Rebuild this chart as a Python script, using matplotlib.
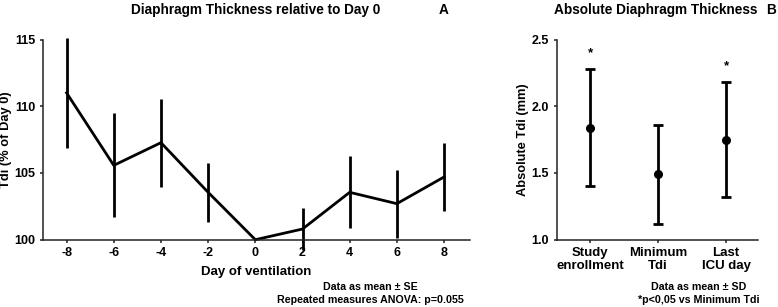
import matplotlib
matplotlib.use("Agg")
import matplotlib.pyplot as plt

plt.rcParams['font.family'] = ['Liberation Sans', 'DejaVu Sans']
plt.rcParams['font.weight'] = 'bold'

# Panel A data
days = [-8, -6, -4, -2, 0, 2, 4, 6, 8]
tdi_rel = [111.0, 105.57, 107.27, 103.55, 100.0, 100.8, 103.55, 102.7, 104.7]
tdi_rel_se = [4.1, 3.9, 3.3, 2.2, 0.0, 1.6, 2.7, 2.55, 2.57]
xticks_a = [-8, -6, -4, -2, 0, 2, 4, 6, 8]
yticks_a = [100, 105, 110, 115]

# Panel B data
categories = ["Study\nenrollment", "Minimum\nTdi", "Last\nICU day"]
tdi_abs = [1.84, 1.49, 1.75]
tdi_abs_sd = [0.44, 0.37, 0.43]
significant = [True, False, True]
yticks_b = [1.0, 1.5, 2.0, 2.5]

W, H = 778, 307
fig = plt.figure(figsize=(W / 100, H / 100), dpi=100)

def fx(px):
    return px / W

def fy(py):
    return 1 - py / H

axA = fig.add_axes([fx(43), fy(239.7), fx(470 - 43), (239.7 - 39.5) / H])
axB = fig.add_axes([fx(556.7), fy(239.7), fx(758 - 556.7), (239.7 - 39.5) / H])

fs = 9
for ax in (axA, axB):
    for s in ('top', 'right'):
        ax.spines[s].set_visible(False)
    for s in ('left', 'bottom'):
        ax.spines[s].set_linewidth(1.1)
        ax.spines[s].set_color('#222222')
    ax.tick_params(direction='out', width=1.1, length=2.5, pad=3, labelsize=fs,
                   color='#222222')

# Panel A
axA.errorbar(days, tdi_rel, yerr=tdi_rel_se, color='black', lw=2.0,
             elinewidth=2.0, capsize=0, clip_on=False)
axA.set_xlim(-9, 9.1)
axA.set_ylim(100, 115)
axA.set_xticks(xticks_a)
axA.set_yticks(yticks_a)
axA.set_xticklabels([str(t) for t in xticks_a], fontweight='bold', fontsize=fs)
axA.set_yticklabels([str(t) for t in yticks_a], fontweight='bold', fontsize=fs)
axA.set_xlabel("Day of ventilation", fontsize=9.5, fontweight='bold', labelpad=5)
axA.set_ylabel("Tdi (% of Day 0)", fontsize=9.3, fontweight='bold', va='center')
axA.yaxis.set_label_coords((6.5 - 43) / 427, 0.5)

# Panel B
xb = list(range(len(categories)))
axB.errorbar(xb, tdi_abs, yerr=tdi_abs_sd, fmt='o', color='black',
             markersize=5.5, elinewidth=2.0, capsize=3.5, capthick=2.0,
             clip_on=False, ls='none')
for x, v, e, sig in zip(xb, tdi_abs, tdi_abs_sd, significant):
    if sig:
        axB.text(x, v + e + 0.12, "*", ha='center', va='center',
                 fontsize=9.5, fontweight='bold')
axB.set_xlim(-0.49, 2.47)
axB.set_ylim(1.0, 2.5)
axB.set_xticks(xb)
axB.set_xticklabels(categories, fontsize=9.5, fontweight='bold', linespacing=1.05)
axB.set_yticks(yticks_b)
axB.set_yticklabels([f"{t:.1f}" for t in yticks_b], fontweight='bold', fontsize=fs)
axB.set_ylabel("Absolute Tdi (mm)", fontsize=9.3, fontweight='bold', va='center')
axB.yaxis.set_label_coords((523 - 556.7) / 201.3, 0.5)

# Titles and notes
fig.text(fx(256), fy(10), "Diaphragm Thickness relative to Day 0",
         ha='center', va='center', fontsize=9.8, fontweight='bold')
fig.text(fx(444), fy(10), "A", ha='center', va='center', fontsize=9.8, fontweight='bold')
fig.text(fx(656), fy(10), "Absolute Diaphragm Thickness",
         ha='center', va='center', fontsize=9.8, fontweight='bold')
fig.text(fx(771), fy(10), "B", ha='center', va='center', fontsize=9.8, fontweight='bold')

fig.text(fx(370), fy(287), "Data as mean \u00b1 SE", ha='center', va='center',
         fontsize=7.7, fontweight='bold')
fig.text(fx(370), fy(300), "Repeated measures ANOVA: p=0.055", ha='center', va='center',
         fontsize=7.7, fontweight='bold')
fig.text(fx(699), fy(287), "Data as mean \u00b1 SD", ha='center', va='center',
         fontsize=7.7, fontweight='bold')
fig.text(fx(699), fy(300), "*p<0,05 vs Minimum Tdi", ha='center', va='center',
         fontsize=7.7, fontweight='bold')

fig.savefig("out.png", dpi=100)
